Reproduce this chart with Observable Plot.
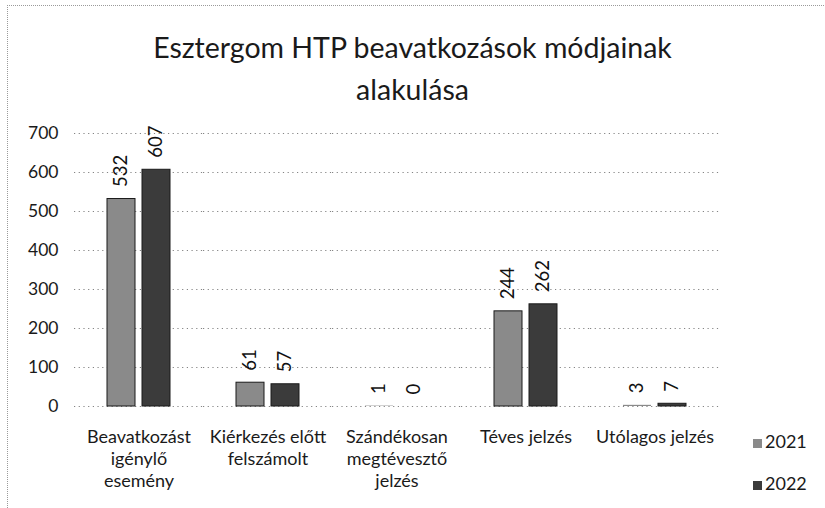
<!DOCTYPE html>
<html>
<head>
<meta charset="utf-8">
<script src="https://cdn.jsdelivr.net/npm/d3@7"></script>
<script src="https://cdn.jsdelivr.net/npm/@observablehq/plot@0.6"></script>
<style>
  html, body { margin: 0; padding: 0; background: #fff; }
  #wrap { position: relative; width: 825px; height: 508px; overflow: hidden; font-family: Lato, "Open Sans", sans-serif; color: #1a1a1a; }
  #frame { position: absolute; left: 7px; top: 5px; width: 830px; height: 520px; border-top: 1px dotted #9a9a9a; border-left: 1px dotted #9a9a9a; }
  #title { position: absolute; left: 0; top: 26px; width: 825px; text-align: center; font-size: 28.5px; line-height: 42px; }
  #chart { position: absolute; left: 0; top: 0; }
  .leg { position: absolute; left: 753px; font-size: 18px; line-height: 20px; }
  .leg span { display: inline-block; width: 9px; height: 9px; margin-right: 3px; vertical-align: 0px; }
</style>
</head>
<body>
<div id="wrap">
  <div id="frame"></div>
  <div id="chart"></div>
  <div id="title">Esztergom HTP beavatkozások módjainak<br>alakulása</div>
  <div id="legend"></div>
</div>
<script>
const categories = ["Beavatkozást igénylő esemény", "Kiérkezés előtt felszámolt", "Szándékosan megtévesztő jelzés", "Téves jelzés", "Utólagos jelzés"];
const categoryLabels = ["Beavatkozást\nigénylő\nesemény", "Kiérkezés előtt\nfelszámolt", "Szándékosan\nmegtévesztő\njelzés", "Téves jelzés", "Utólagos jelzés"];
const years = ["2021", "2022"];
const values2021 = [532, 61, 1, 244, 3];
const values2022 = [607, 57, 0, 262, 7];
const yTicks = [0, 100, 200, 300, 400, 500, 600, 700];
const colors = ["#8a8a8a", "#3b3b3b"];

const data = [];
categories.forEach((c, i) => {
  data.push({category: c, year: years[0], value: values2021[i]});
  data.push({category: c, year: years[1], value: values2022[i]});
});
const labelOf = new Map(categories.map((c, i) => [c, categoryLabels[i]]));

const chart = Plot.plot({
  width: 825,
  height: 508,
  marginTop: 133,
  marginBottom: 102,
  marginLeft: 72,
  marginRight: 105,
  style: {fontFamily: "Lato, 'Open Sans', sans-serif", background: "transparent", color: "#1a1a1a"},
  fx: {domain: categories, padding: 0, label: null},
  x: {domain: years, paddingInner: 0.194, paddingOuter: 0.897, axis: null},
  y: {domain: [0, 700], label: null},
  color: {domain: years, range: colors},
  marks: [
    Plot.gridY(yTicks, {stroke: "#777", strokeOpacity: 0.9, strokeDasharray: "1.2,3.5"}),
    Plot.axisY(yTicks, {tickSize: 0, tickPadding: 16, fontSize: 17.5, label: null, fill: "#1a1a1a"}),
    Plot.axisFx({anchor: "bottom", tickSize: 0, tickPadding: 21, fontSize: 18, lineHeight: 1.22, label: null, tickFormat: d => labelOf.get(d), fill: "#1a1a1a"}),
    Plot.barY(data, {fx: "category", x: "year", y: "value", fill: "year", stroke: d => d.value >= 5 ? "#1a1a1a" : "none", strokeWidth: 1}),
    Plot.text(data, {fx: "category", x: "year", y: "value", text: d => String(d.value), rotate: -90, textAnchor: "start", dy: -12, fontSize: 18.5, fill: "#111"})
  ]
});
document.getElementById("chart").appendChild(chart);

const legend = document.getElementById("legend");
years.forEach((y, i) => {
  const div = document.createElement("div");
  div.className = "leg";
  div.style.top = (431 + i * 42) + "px";
  div.innerHTML = `<span style="background:${colors[i]}"></span>${y}`;
  legend.appendChild(div);
});
</script>
</body>
</html>
